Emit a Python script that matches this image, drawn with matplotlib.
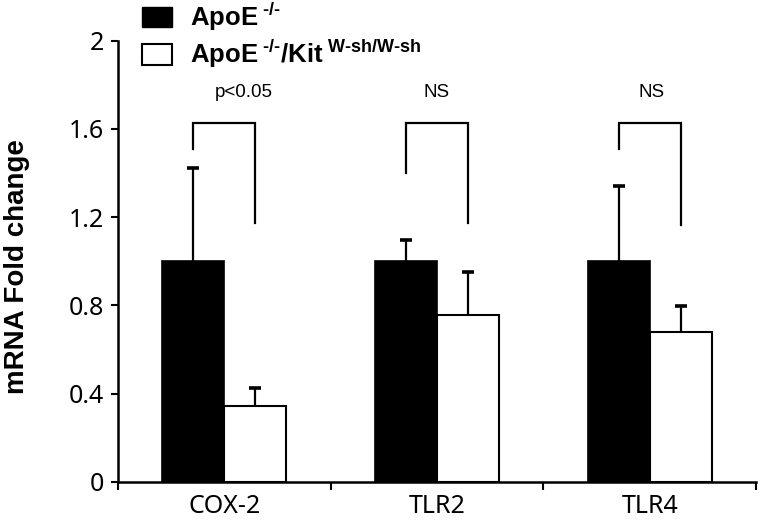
import matplotlib
matplotlib.use('Agg')
import matplotlib.pyplot as plt
import numpy as np
from matplotlib.patches import Patch

# values
categories = ['COX-2', 'TLR2', 'TLR4']
apoe_vals = [1.0, 1.0, 1.0]
apoe_err = [0.425, 0.095, 0.34]
kit_vals = [0.345, 0.755, 0.68]
kit_err = [0.08, 0.195, 0.116]
sig_labels = ['p<0.05', 'NS', 'NS']
bracket_top = [1.625, 1.625, 1.625]
bracket_left = [1.51, 1.40, 1.51]
bracket_right = [1.175, 1.175, 1.165]
y_ticks = [0, 0.4, 0.8, 1.2, 1.6, 2.0]
y_tick_labels = ['0', '0.4', '0.8', '1.2', '1.6', '2']

plt.rcParams['mathtext.fontset'] = 'custom'
plt.rcParams['mathtext.rm'] = 'Liberation Sans:bold'
plt.rcParams['mathtext.it'] = 'Liberation Sans:bold'
plt.rcParams['mathtext.bf'] = 'Liberation Sans:bold'

fig = plt.figure(figsize=(7.6, 5.25), dpi=100)
ax = fig.add_axes([0.155, 0.082, 0.84, 0.8405])

x = np.arange(len(categories))
w = 0.29
off = 0.145

ax.bar(x - off, apoe_vals, w, color='black', edgecolor='black', linewidth=1.2, zorder=2)
ax.bar(x + off, kit_vals, w, color='white', edgecolor='black', linewidth=1.5, zorder=2)

# upper-only error bars
zeros = np.zeros(len(x))
for xs, vals, err in [(x - off, apoe_vals, apoe_err), (x + off, kit_vals, kit_err)]:
    eb = ax.errorbar(xs, vals, yerr=[zeros, err], fmt='none', ecolor='black',
                     elinewidth=1.6, capsize=4.5, capthick=2.6, zorder=1)
    eb[1][0].set_visible(False)

# significance brackets
label_shift = [0.09, 0.0, 0.01]
for i in range(len(categories)):
    ax.plot([x[i] - off, x[i] - off, x[i] + off, x[i] + off],
            [bracket_left[i], bracket_top[i], bracket_top[i], bracket_right[i]],
            color='black', lw=1.6, solid_joinstyle='miter', zorder=3)
    ax.text(x[i] + label_shift[i], 1.765, sig_labels[i], ha='center', va='center',
            fontsize=13.5, family='Liberation Sans')

ax.set_xlim(-0.5, 2.5)
ax.set_ylim(0, 2)

for s in ['top', 'right']:
    ax.spines[s].set_visible(False)
for s in ['left', 'bottom']:
    ax.spines[s].set_linewidth(1.8)

ax.set_yticks(y_ticks)
ax.set_yticklabels(y_tick_labels, fontsize=18, family='Noto Sans')
ax.tick_params(axis='y', direction='out', length=5, width=1.5, pad=5)

ax.set_xticks(np.arange(-0.5, 3.0, 1.0))
ax.set_xticklabels([])
ax.set_xticks(x, minor=True)
ax.set_xticklabels(categories, minor=True, fontsize=18, family='Noto Sans')
ax.tick_params(axis='x', which='major', direction='out', length=6, width=1.5)
ax.tick_params(axis='x', which='minor', length=0, pad=9)

ax.set_ylabel('mRNA Fold change', fontsize=20, fontweight='bold', family='Liberation Sans')
ax.yaxis.set_label_coords(-0.138, 0.487)

handles = [Patch(facecolor='black', edgecolor='black'),
           Patch(facecolor='white', edgecolor='black', linewidth=1.5)]
labels = [r'ApoE$^{\ \text{-/-}}$', r'ApoE$^{\ \text{-/-}}$/Kit$^{\ \text{W-sh/W-sh}}$']
fig.legend(handles, labels, loc='upper left', bbox_to_anchor=(142 / 760, 1 - 1 / 525),
           frameon=False, borderpad=0, borderaxespad=0, handlelength=1.15,
           handleheight=0.85, handletextpad=0.7, labelspacing=0.2,
           prop={'family': 'Liberation Sans', 'weight': 'bold', 'size': 18.5})

fig.savefig('out.png', dpi=100)
